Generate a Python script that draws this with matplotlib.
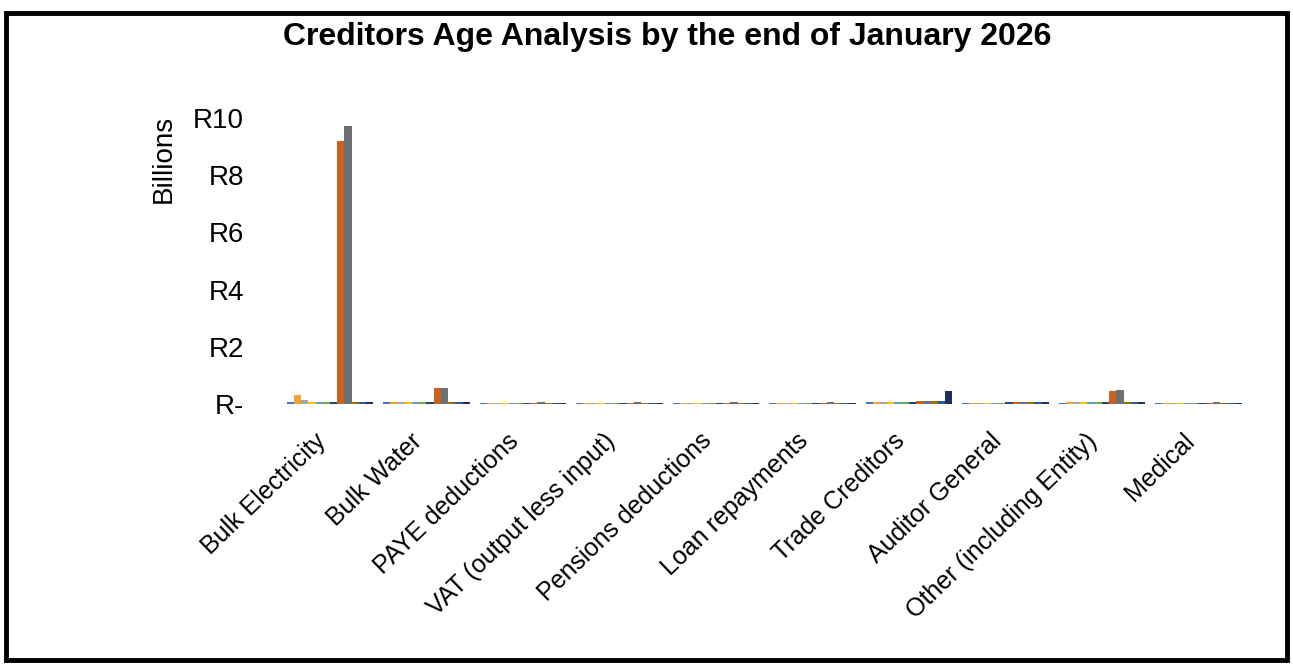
import numpy as np
import matplotlib.pyplot as plt
import matplotlib.transforms as mtransforms
from matplotlib.patches import Rectangle

plt.rcParams['font.family'] = ['Liberation Sans', 'DejaVu Sans']

categories = ['Bulk Electricity', 'Bulk Water', 'PAYE deductions',
              'VAT (output less input)', 'Pensions deductions',
              'Loan repayments', 'Trade Creditors', 'Auditor General',
              'Other (including Entity)', 'Medical']

# R billions per creditor type, one list per age column
bucket_01 = [0.07, 0.06, 0.05, 0.05, 0.05, 0.05, 0.06, 0.05, 0.05, 0.05]
bucket_02 = [0.32, 0.06, 0.05, 0.05, 0.05, 0.05, 0.06, 0.05, 0.06, 0.05]
bucket_03 = [0.15, 0.06, 0.05, 0.05, 0.05, 0.05, 0.06, 0.05, 0.06, 0.05]
bucket_04 = [0.06, 0.06, 0.05, 0.05, 0.05, 0.05, 0.06, 0.05, 0.07, 0.05]
bucket_05 = [0.06, 0.06, 0.05, 0.05, 0.05, 0.05, 0.06, 0.05, 0.06, 0.05]
bucket_06 = [0.06, 0.06, 0.05, 0.05, 0.05, 0.05, 0.06, 0.05, 0.06, 0.05]
bucket_07 = [0.06, 0.06, 0.05, 0.05, 0.05, 0.05, 0.07, 0.06, 0.07, 0.05]
bucket_08 = [9.20, 0.55, 0.05, 0.05, 0.05, 0.05, 0.09, 0.07, 0.45, 0.05]
bucket_09 = [9.72, 0.55, 0.06, 0.06, 0.06, 0.06, 0.11, 0.08, 0.50, 0.06]
bucket_10 = [0.06, 0.06, 0.05, 0.05, 0.05, 0.05, 0.10, 0.06, 0.08, 0.05]
bucket_11 = [0.06, 0.06, 0.05, 0.05, 0.05, 0.05, 0.10, 0.06, 0.07, 0.05]
bucket_12 = [0.07, 0.07, 0.05, 0.05, 0.05, 0.05, 0.45, 0.06, 0.06, 0.05]

series = [bucket_01, bucket_02, bucket_03, bucket_04, bucket_05, bucket_06,
          bucket_07, bucket_08, bucket_09, bucket_10, bucket_11, bucket_12]
colors = ['#4472C4', '#F5A030', '#A5A5A5', '#FFC000', '#5B9BD5', '#70AD47',
          '#264478', '#C8621C', '#6D7073', '#997300', '#255E91', '#1F2F5C']

yticks = [0, 2, 4, 6, 8, 10]
ytick_labels = ['R-', 'R2', 'R4', 'R6', 'R8', 'R10']

fig = plt.figure(figsize=(12.93, 6.65), dpi=100)
ax = fig.add_axes([0.2179, 0.3925, 0.7463, 0.4301])

x = np.arange(len(categories))
n = len(series)
w = 0.9 / n
for i, vals in enumerate(series):
    ax.bar(x - 0.45 + w * (i + 0.5), vals, width=w, color=colors[i],
           edgecolor='none')

ax.set_xlim(-0.5, len(categories) - 0.5)
ax.set_ylim(0, 10)
ax.set_yticks(yticks)
ax.set_yticklabels(ytick_labels, fontsize=20)
ax.tick_params(axis='y', length=0, pad=27)
ax.set_xticks(x)
ax.set_xticklabels(categories, fontsize=18, rotation=44, ha='right',
                   va='center', rotation_mode='anchor')
ax.tick_params(axis='x', length=0, pad=24)
shift = mtransforms.ScaledTranslation(-8 / 100, 0, fig.dpi_scale_trans)
for lbl in ax.get_xticklabels():
    lbl.set_transform(lbl.get_transform() + shift)
for s in ax.spines.values():
    s.set_visible(False)

fig.text(0.127, 0.761, 'Billions', rotation=90, fontsize=20,
         ha='center', va='center')
fig.text(0.516, 0.944, 'Creditors Age Analysis by the end of January 2026',
         fontsize=23, fontweight='bold', ha='center', va='center')

# outer frame
fig.patches.append(Rectangle((0.005, 0.008), 0.99, 0.972, fill=False,
                             edgecolor='black', linewidth=3.5,
                             transform=fig.transFigure, figure=fig))

fig.savefig('out.png', dpi=100)
